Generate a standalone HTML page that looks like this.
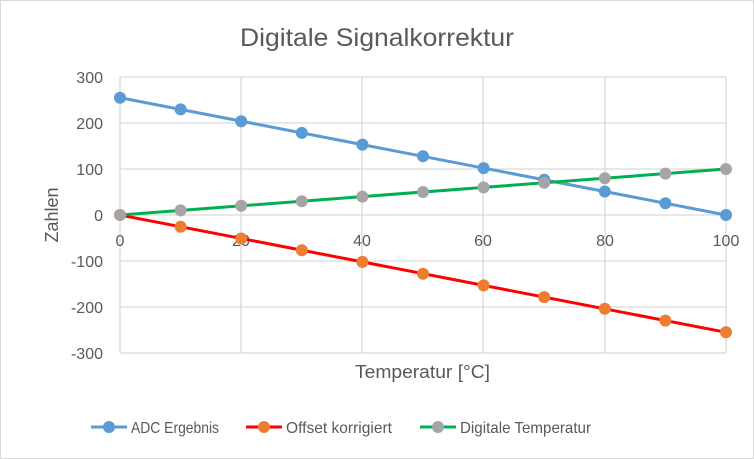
<!DOCTYPE html>
<html><head><meta charset="utf-8"><style>
body{margin:0;background:#fff}
svg{display:block;font-family:"Liberation Sans",sans-serif}
</style></head><body>
<svg width="754" height="459" viewBox="0 0 754 459">
<rect x="0.5" y="0.5" width="753" height="458" fill="#fff" stroke="#d9d9d9"/>
<text x="240" y="46" textLength="274" lengthAdjust="spacingAndGlyphs" font-size="25" fill="#595959">Digitale Signalkorrektur</text>
<g stroke="#d9d9d9" stroke-width="1.3">
<line x1="120" y1="77" x2="726" y2="77"/><line x1="120" y1="123" x2="726" y2="123"/>
<line x1="120" y1="169" x2="726" y2="169"/><line x1="120" y1="261" x2="726" y2="261"/>
<line x1="120" y1="307" x2="726" y2="307"/><line x1="120" y1="353" x2="726" y2="353"/>
<line x1="241" y1="77" x2="241" y2="353"/><line x1="362" y1="77" x2="362" y2="353"/>
<line x1="483" y1="77" x2="483" y2="353"/><line x1="605" y1="77" x2="605" y2="353"/>
<line x1="726" y1="77" x2="726" y2="353"/><line x1="120" y1="77" x2="120" y2="353"/>
<line x1="120" y1="215" x2="726" y2="215"/>
</g>
<g font-size="16" fill="#595959" text-anchor="end">
<text x="103" y="83">300</text><text x="103" y="129">200</text><text x="103" y="175">100</text>
<text x="103" y="221">0</text><text x="103" y="267">-100</text><text x="103" y="313">-200</text><text x="103" y="359">-300</text>
</g>
<g font-size="16" fill="#595959" text-anchor="middle">
<text x="120" y="246">0</text><text x="241" y="246">20</text><text x="362" y="246">40</text>
<text x="483" y="246">60</text><text x="605" y="246">80</text><text x="726" y="246">100</text>
</g>
<text x="355" y="378" textLength="135" lengthAdjust="spacingAndGlyphs" font-size="18" fill="#595959">Temperatur [°C]</text>
<text transform="translate(58,215) rotate(-90)" text-anchor="middle" font-size="18" fill="#595959">Zahlen</text>
<g fill="#5B9BD5">
<polyline fill="none" stroke="#5B9BD5" stroke-width="3" points="120,97.7 726,215"/>
<circle cx="120" cy="97.7" r="6"/><circle cx="180.6" cy="109.4" r="6"/><circle cx="241.2" cy="121.2" r="6"/>
<circle cx="301.8" cy="132.9" r="6"/><circle cx="362.4" cy="144.6" r="6"/><circle cx="423" cy="156.3" r="6"/>
<circle cx="483.6" cy="168.1" r="6"/><circle cx="544.2" cy="179.8" r="6"/><circle cx="604.8" cy="191.5" r="6"/>
<circle cx="665.4" cy="203.3" r="6"/><circle cx="726" cy="215" r="6"/>
</g>
<g fill="#ED7D31">
<polyline fill="none" stroke="#FF0000" stroke-width="3" points="120,215 726,332.3"/>
<circle cx="120" cy="215" r="6"/><circle cx="180.6" cy="226.7" r="6"/><circle cx="241.2" cy="238.5" r="6"/>
<circle cx="301.8" cy="250.2" r="6"/><circle cx="362.4" cy="261.9" r="6"/><circle cx="423" cy="273.7" r="6"/>
<circle cx="483.6" cy="285.4" r="6"/><circle cx="544.2" cy="297.1" r="6"/><circle cx="604.8" cy="308.8" r="6"/>
<circle cx="665.4" cy="320.6" r="6"/><circle cx="726" cy="332.3" r="6"/>
</g>
<g fill="#A5A5A5">
<polyline fill="none" stroke="#00B050" stroke-width="3" points="120,215 726,169"/>
<circle cx="120" cy="215" r="6"/><circle cx="180.6" cy="210.4" r="6"/><circle cx="241.2" cy="205.8" r="6"/>
<circle cx="301.8" cy="201.2" r="6"/><circle cx="362.4" cy="196.6" r="6"/><circle cx="423" cy="192" r="6"/>
<circle cx="483.6" cy="187.4" r="6"/><circle cx="544.2" cy="182.8" r="6"/><circle cx="604.8" cy="178.2" r="6"/>
<circle cx="665.4" cy="173.6" r="6"/><circle cx="726" cy="169" r="6"/>
</g>
<g font-size="16" fill="#595959">
<line x1="91" y1="427" x2="127" y2="427" stroke="#5B9BD5" stroke-width="3"/><circle cx="109" cy="427" r="6" fill="#5B9BD5"/>
<text x="131" y="433" textLength="88" lengthAdjust="spacingAndGlyphs">ADC Ergebnis</text>
<line x1="246" y1="427" x2="282" y2="427" stroke="#FF0000" stroke-width="3"/><circle cx="264" cy="427" r="6" fill="#ED7D31"/>
<text x="286" y="433" textLength="106" lengthAdjust="spacingAndGlyphs">Offset korrigiert</text>
<line x1="420" y1="427" x2="456" y2="427" stroke="#00B050" stroke-width="3"/><circle cx="438" cy="427" r="6" fill="#A5A5A5"/>
<text x="460" y="433" textLength="131" lengthAdjust="spacingAndGlyphs">Digitale Temperatur</text>
</g>
</svg>
</body></html>
